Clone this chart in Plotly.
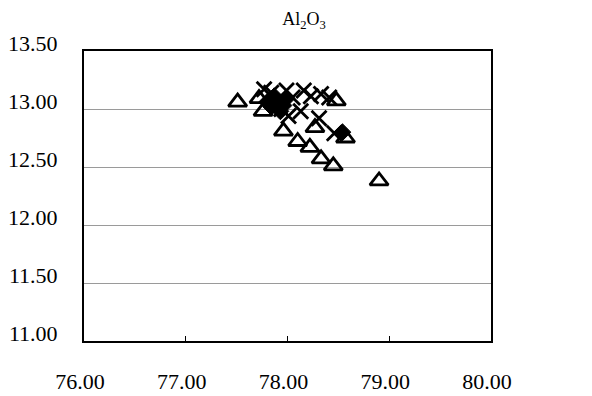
import plotly.graph_objects as go

# Series (SiO2 on x, Al2O3 on y)
tri_x = [77.51, 77.72, 77.76, 77.96, 78.10, 78.22, 78.27, 78.33, 78.45, 78.48, 78.57, 78.90]
tri_y = [13.06, 13.09, 12.98, 12.81, 12.72, 12.67, 12.84, 12.57, 12.51, 13.07, 12.75, 12.38]

cross_x = [77.77, 77.84, 77.99, 78.05, 78.16, 78.23, 78.33, 78.41, 78.13, 78.01, 78.31, 78.46, 77.89, 77.94]
cross_y = [13.17, 13.14, 13.16, 13.10, 13.16, 13.11, 13.13, 13.10, 12.98, 12.94, 12.92, 12.79, 13.07, 13.00]

dia_x = [77.90, 77.96, 77.84, 77.99, 77.93, 77.80, 77.87, 78.54]
dia_y = [13.07, 13.03, 13.02, 13.09, 12.98, 13.06, 13.11, 12.80]

x_ticks = [76.0, 77.0, 78.0, 79.0, 80.0]
y_ticks = [11.0, 11.5, 12.0, 12.5, 13.0, 13.5]

fig = go.Figure()
fig.add_trace(go.Scatter(x=tri_x, y=tri_y, mode="markers",
                         marker=dict(symbol="triangle-up-open", size=16, color="black",
                                     line=dict(width=2.8, color="black"))))
fig.add_trace(go.Scatter(x=cross_x, y=cross_y, mode="markers",
                         marker=dict(symbol="x-thin-open", size=15, color="black",
                                     line=dict(width=2.8, color="black"))))
fig.add_trace(go.Scatter(x=dia_x, y=dia_y, mode="markers",
                         marker=dict(symbol="diamond", size=13, color="black",
                                     line=dict(width=1, color="black"))))

font = "Liberation Serif"
fig.update_layout(
    width=592, height=396,
    margin=dict(l=76, r=109, t=43, b=63, autoexpand=False),
    paper_bgcolor="white", plot_bgcolor="white",
    showlegend=False,
    title=dict(text="Al<sub>2</sub>O<sub>3</sub>", x=0.5, xanchor="center",
               y=1 - 11 / 396, yanchor="middle", automargin=False,
               font=dict(family=font, size=18, color="black")),
    font=dict(family=font, size=22, color="black"),
    xaxis=dict(range=[76, 80], tickvals=x_ticks, ticktext=[f"{v:.2f}" for v in x_ticks],
               showgrid=False, zeroline=False, showline=True, linecolor="black",
               linewidth=2, mirror=True, ticks="inside", ticklen=5, tickcolor="black",
               tickwidth=1, ticklabelstandoff=20, ticklabelshift=-4, automargin=False,
               tickfont=dict(family=font, size=22, color="black")),
    yaxis=dict(range=[11, 13.5], tickvals=y_ticks, ticktext=[f"{v:.2f}" for v in y_ticks],
               showgrid=True, gridcolor="#9a9a9a", gridwidth=1, zeroline=False,
               showline=True, linecolor="black", linewidth=2, mirror=True, ticks="",
               ticklabelstandoff=20, ticklabelshift=-8, automargin=False,
               tickfont=dict(family=font, size=22, color="black")),
)

fig.write_html("out.html")
